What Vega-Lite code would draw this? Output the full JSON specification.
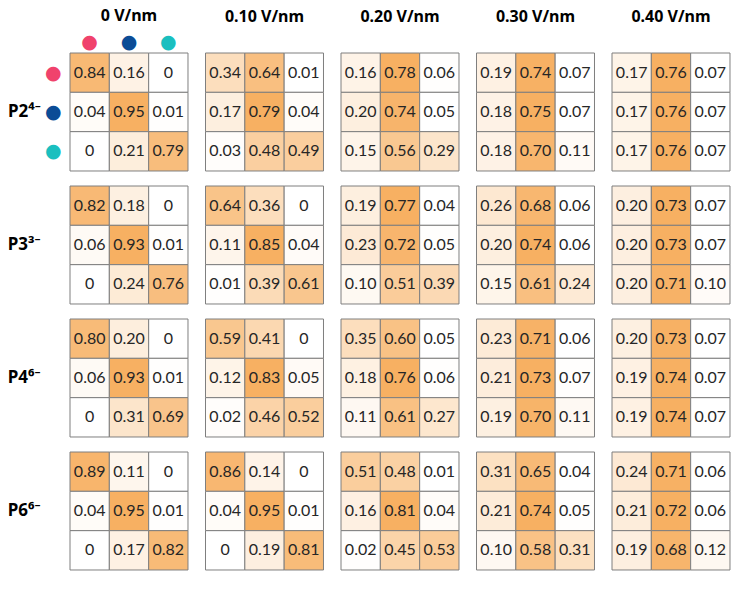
{
  "$schema": "https://vega.github.io/schema/vega-lite/v6.json",
  "background": "white",
  "padding": {"left": 7, "top": 8, "right": 8, "bottom": 8},
  "data": {"values": [
    {"e":"0","p":"P2","r":1,"c":1,"v":0.84},{"e":"0","p":"P2","r":1,"c":2,"v":0.16},{"e":"0","p":"P2","r":1,"c":3,"v":0},
    {"e":"0","p":"P2","r":2,"c":1,"v":0.04},{"e":"0","p":"P2","r":2,"c":2,"v":0.95},{"e":"0","p":"P2","r":2,"c":3,"v":0.01},
    {"e":"0","p":"P2","r":3,"c":1,"v":0},{"e":"0","p":"P2","r":3,"c":2,"v":0.21},{"e":"0","p":"P2","r":3,"c":3,"v":0.79},
    {"e":"0.10","p":"P2","r":1,"c":1,"v":0.34},{"e":"0.10","p":"P2","r":1,"c":2,"v":0.64},{"e":"0.10","p":"P2","r":1,"c":3,"v":0.01},
    {"e":"0.10","p":"P2","r":2,"c":1,"v":0.17},{"e":"0.10","p":"P2","r":2,"c":2,"v":0.79},{"e":"0.10","p":"P2","r":2,"c":3,"v":0.04},
    {"e":"0.10","p":"P2","r":3,"c":1,"v":0.03},{"e":"0.10","p":"P2","r":3,"c":2,"v":0.48},{"e":"0.10","p":"P2","r":3,"c":3,"v":0.49},
    {"e":"0.20","p":"P2","r":1,"c":1,"v":0.16},{"e":"0.20","p":"P2","r":1,"c":2,"v":0.78},{"e":"0.20","p":"P2","r":1,"c":3,"v":0.06},
    {"e":"0.20","p":"P2","r":2,"c":1,"v":0.20},{"e":"0.20","p":"P2","r":2,"c":2,"v":0.74},{"e":"0.20","p":"P2","r":2,"c":3,"v":0.05},
    {"e":"0.20","p":"P2","r":3,"c":1,"v":0.15},{"e":"0.20","p":"P2","r":3,"c":2,"v":0.56},{"e":"0.20","p":"P2","r":3,"c":3,"v":0.29},
    {"e":"0.30","p":"P2","r":1,"c":1,"v":0.19},{"e":"0.30","p":"P2","r":1,"c":2,"v":0.74},{"e":"0.30","p":"P2","r":1,"c":3,"v":0.07},
    {"e":"0.30","p":"P2","r":2,"c":1,"v":0.18},{"e":"0.30","p":"P2","r":2,"c":2,"v":0.75},{"e":"0.30","p":"P2","r":2,"c":3,"v":0.07},
    {"e":"0.30","p":"P2","r":3,"c":1,"v":0.18},{"e":"0.30","p":"P2","r":3,"c":2,"v":0.70},{"e":"0.30","p":"P2","r":3,"c":3,"v":0.11},
    {"e":"0.40","p":"P2","r":1,"c":1,"v":0.17},{"e":"0.40","p":"P2","r":1,"c":2,"v":0.76},{"e":"0.40","p":"P2","r":1,"c":3,"v":0.07},
    {"e":"0.40","p":"P2","r":2,"c":1,"v":0.17},{"e":"0.40","p":"P2","r":2,"c":2,"v":0.76},{"e":"0.40","p":"P2","r":2,"c":3,"v":0.07},
    {"e":"0.40","p":"P2","r":3,"c":1,"v":0.17},{"e":"0.40","p":"P2","r":3,"c":2,"v":0.76},{"e":"0.40","p":"P2","r":3,"c":3,"v":0.07},
    {"e":"0","p":"P3","r":1,"c":1,"v":0.82},{"e":"0","p":"P3","r":1,"c":2,"v":0.18},{"e":"0","p":"P3","r":1,"c":3,"v":0},
    {"e":"0","p":"P3","r":2,"c":1,"v":0.06},{"e":"0","p":"P3","r":2,"c":2,"v":0.93},{"e":"0","p":"P3","r":2,"c":3,"v":0.01},
    {"e":"0","p":"P3","r":3,"c":1,"v":0},{"e":"0","p":"P3","r":3,"c":2,"v":0.24},{"e":"0","p":"P3","r":3,"c":3,"v":0.76},
    {"e":"0.10","p":"P3","r":1,"c":1,"v":0.64},{"e":"0.10","p":"P3","r":1,"c":2,"v":0.36},{"e":"0.10","p":"P3","r":1,"c":3,"v":0},
    {"e":"0.10","p":"P3","r":2,"c":1,"v":0.11},{"e":"0.10","p":"P3","r":2,"c":2,"v":0.85},{"e":"0.10","p":"P3","r":2,"c":3,"v":0.04},
    {"e":"0.10","p":"P3","r":3,"c":1,"v":0.01},{"e":"0.10","p":"P3","r":3,"c":2,"v":0.39},{"e":"0.10","p":"P3","r":3,"c":3,"v":0.61},
    {"e":"0.20","p":"P3","r":1,"c":1,"v":0.19},{"e":"0.20","p":"P3","r":1,"c":2,"v":0.77},{"e":"0.20","p":"P3","r":1,"c":3,"v":0.04},
    {"e":"0.20","p":"P3","r":2,"c":1,"v":0.23},{"e":"0.20","p":"P3","r":2,"c":2,"v":0.72},{"e":"0.20","p":"P3","r":2,"c":3,"v":0.05},
    {"e":"0.20","p":"P3","r":3,"c":1,"v":0.10},{"e":"0.20","p":"P3","r":3,"c":2,"v":0.51},{"e":"0.20","p":"P3","r":3,"c":3,"v":0.39},
    {"e":"0.30","p":"P3","r":1,"c":1,"v":0.26},{"e":"0.30","p":"P3","r":1,"c":2,"v":0.68},{"e":"0.30","p":"P3","r":1,"c":3,"v":0.06},
    {"e":"0.30","p":"P3","r":2,"c":1,"v":0.20},{"e":"0.30","p":"P3","r":2,"c":2,"v":0.74},{"e":"0.30","p":"P3","r":2,"c":3,"v":0.06},
    {"e":"0.30","p":"P3","r":3,"c":1,"v":0.15},{"e":"0.30","p":"P3","r":3,"c":2,"v":0.61},{"e":"0.30","p":"P3","r":3,"c":3,"v":0.24},
    {"e":"0.40","p":"P3","r":1,"c":1,"v":0.20},{"e":"0.40","p":"P3","r":1,"c":2,"v":0.73},{"e":"0.40","p":"P3","r":1,"c":3,"v":0.07},
    {"e":"0.40","p":"P3","r":2,"c":1,"v":0.20},{"e":"0.40","p":"P3","r":2,"c":2,"v":0.73},{"e":"0.40","p":"P3","r":2,"c":3,"v":0.07},
    {"e":"0.40","p":"P3","r":3,"c":1,"v":0.20},{"e":"0.40","p":"P3","r":3,"c":2,"v":0.71},{"e":"0.40","p":"P3","r":3,"c":3,"v":0.10},
    {"e":"0","p":"P4","r":1,"c":1,"v":0.80},{"e":"0","p":"P4","r":1,"c":2,"v":0.20},{"e":"0","p":"P4","r":1,"c":3,"v":0},
    {"e":"0","p":"P4","r":2,"c":1,"v":0.06},{"e":"0","p":"P4","r":2,"c":2,"v":0.93},{"e":"0","p":"P4","r":2,"c":3,"v":0.01},
    {"e":"0","p":"P4","r":3,"c":1,"v":0},{"e":"0","p":"P4","r":3,"c":2,"v":0.31},{"e":"0","p":"P4","r":3,"c":3,"v":0.69},
    {"e":"0.10","p":"P4","r":1,"c":1,"v":0.59},{"e":"0.10","p":"P4","r":1,"c":2,"v":0.41},{"e":"0.10","p":"P4","r":1,"c":3,"v":0},
    {"e":"0.10","p":"P4","r":2,"c":1,"v":0.12},{"e":"0.10","p":"P4","r":2,"c":2,"v":0.83},{"e":"0.10","p":"P4","r":2,"c":3,"v":0.05},
    {"e":"0.10","p":"P4","r":3,"c":1,"v":0.02},{"e":"0.10","p":"P4","r":3,"c":2,"v":0.46},{"e":"0.10","p":"P4","r":3,"c":3,"v":0.52},
    {"e":"0.20","p":"P4","r":1,"c":1,"v":0.35},{"e":"0.20","p":"P4","r":1,"c":2,"v":0.60},{"e":"0.20","p":"P4","r":1,"c":3,"v":0.05},
    {"e":"0.20","p":"P4","r":2,"c":1,"v":0.18},{"e":"0.20","p":"P4","r":2,"c":2,"v":0.76},{"e":"0.20","p":"P4","r":2,"c":3,"v":0.06},
    {"e":"0.20","p":"P4","r":3,"c":1,"v":0.11},{"e":"0.20","p":"P4","r":3,"c":2,"v":0.61},{"e":"0.20","p":"P4","r":3,"c":3,"v":0.27},
    {"e":"0.30","p":"P4","r":1,"c":1,"v":0.23},{"e":"0.30","p":"P4","r":1,"c":2,"v":0.71},{"e":"0.30","p":"P4","r":1,"c":3,"v":0.06},
    {"e":"0.30","p":"P4","r":2,"c":1,"v":0.21},{"e":"0.30","p":"P4","r":2,"c":2,"v":0.73},{"e":"0.30","p":"P4","r":2,"c":3,"v":0.07},
    {"e":"0.30","p":"P4","r":3,"c":1,"v":0.19},{"e":"0.30","p":"P4","r":3,"c":2,"v":0.70},{"e":"0.30","p":"P4","r":3,"c":3,"v":0.11},
    {"e":"0.40","p":"P4","r":1,"c":1,"v":0.20},{"e":"0.40","p":"P4","r":1,"c":2,"v":0.73},{"e":"0.40","p":"P4","r":1,"c":3,"v":0.07},
    {"e":"0.40","p":"P4","r":2,"c":1,"v":0.19},{"e":"0.40","p":"P4","r":2,"c":2,"v":0.74},{"e":"0.40","p":"P4","r":2,"c":3,"v":0.07},
    {"e":"0.40","p":"P4","r":3,"c":1,"v":0.19},{"e":"0.40","p":"P4","r":3,"c":2,"v":0.74},{"e":"0.40","p":"P4","r":3,"c":3,"v":0.07},
    {"e":"0","p":"P6","r":1,"c":1,"v":0.89},{"e":"0","p":"P6","r":1,"c":2,"v":0.11},{"e":"0","p":"P6","r":1,"c":3,"v":0},
    {"e":"0","p":"P6","r":2,"c":1,"v":0.04},{"e":"0","p":"P6","r":2,"c":2,"v":0.95},{"e":"0","p":"P6","r":2,"c":3,"v":0.01},
    {"e":"0","p":"P6","r":3,"c":1,"v":0},{"e":"0","p":"P6","r":3,"c":2,"v":0.17},{"e":"0","p":"P6","r":3,"c":3,"v":0.82},
    {"e":"0.10","p":"P6","r":1,"c":1,"v":0.86},{"e":"0.10","p":"P6","r":1,"c":2,"v":0.14},{"e":"0.10","p":"P6","r":1,"c":3,"v":0},
    {"e":"0.10","p":"P6","r":2,"c":1,"v":0.04},{"e":"0.10","p":"P6","r":2,"c":2,"v":0.95},{"e":"0.10","p":"P6","r":2,"c":3,"v":0.01},
    {"e":"0.10","p":"P6","r":3,"c":1,"v":0},{"e":"0.10","p":"P6","r":3,"c":2,"v":0.19},{"e":"0.10","p":"P6","r":3,"c":3,"v":0.81},
    {"e":"0.20","p":"P6","r":1,"c":1,"v":0.51},{"e":"0.20","p":"P6","r":1,"c":2,"v":0.48},{"e":"0.20","p":"P6","r":1,"c":3,"v":0.01},
    {"e":"0.20","p":"P6","r":2,"c":1,"v":0.16},{"e":"0.20","p":"P6","r":2,"c":2,"v":0.81},{"e":"0.20","p":"P6","r":2,"c":3,"v":0.04},
    {"e":"0.20","p":"P6","r":3,"c":1,"v":0.02},{"e":"0.20","p":"P6","r":3,"c":2,"v":0.45},{"e":"0.20","p":"P6","r":3,"c":3,"v":0.53},
    {"e":"0.30","p":"P6","r":1,"c":1,"v":0.31},{"e":"0.30","p":"P6","r":1,"c":2,"v":0.65},{"e":"0.30","p":"P6","r":1,"c":3,"v":0.04},
    {"e":"0.30","p":"P6","r":2,"c":1,"v":0.21},{"e":"0.30","p":"P6","r":2,"c":2,"v":0.74},{"e":"0.30","p":"P6","r":2,"c":3,"v":0.05},
    {"e":"0.30","p":"P6","r":3,"c":1,"v":0.10},{"e":"0.30","p":"P6","r":3,"c":2,"v":0.58},{"e":"0.30","p":"P6","r":3,"c":3,"v":0.31},
    {"e":"0.40","p":"P6","r":1,"c":1,"v":0.24},{"e":"0.40","p":"P6","r":1,"c":2,"v":0.71},{"e":"0.40","p":"P6","r":1,"c":3,"v":0.06},
    {"e":"0.40","p":"P6","r":2,"c":1,"v":0.21},{"e":"0.40","p":"P6","r":2,"c":2,"v":0.72},{"e":"0.40","p":"P6","r":2,"c":3,"v":0.06},
    {"e":"0.40","p":"P6","r":3,"c":1,"v":0.19},{"e":"0.40","p":"P6","r":3,"c":2,"v":0.68},{"e":"0.40","p":"P6","r":3,"c":3,"v":0.12}
  ]},
  "bounds": "flush",
  "columns": 5,
  "spacing": {"row": 15, "column": 17.5},
  "resolve": {"scale": {"color": "independent"}},
  "concat": [
    {"title": {"text": "0 V/nm", "offset": 8},
     "transform": [{"filter": "datum.e == '0' && datum.p == 'P2'"}],
     "encoding": {
       "x": {"field": "c", "type": "ordinal", "axis": {"orient": "top", "title": null, "domain": false, "ticks": false, "labelExpr": "'●'", "labelFont": "DejaVu Sans", "labelFontSize": 19, "labelPadding": 2, "labelAngle": 0,
         "labelColor": {"condition": [{"test": "datum.value == 1", "value": "#F0426C"}, {"test": "datum.value == 2", "value": "#0B4C96"}], "value": "#1ABFBF"}}},
       "y": {"field": "r", "type": "ordinal", "axis": {"title": "P2⁴⁻", "titleAngle": 0, "titleAlign": "right", "titleBaseline": "middle", "titlePadding": 4, "domain": false, "ticks": false, "labelExpr": "'●'", "labelFont": "DejaVu Sans", "labelFontSize": 19, "labelPadding": 9,
         "labelColor": {"condition": [{"test": "datum.value == 1", "value": "#F0426C"}, {"test": "datum.value == 2", "value": "#0B4C96"}], "value": "#1ABFBF"}}}
     },
     "layer": [
       {"mark": {"type": "rect", "stroke": "#7f7f7f", "strokeWidth": 1}, "encoding": {"color": {"field": "v", "type": "quantitative", "legend": null, "scale": {"range": ["#ffffff", "#F7B062"], "interpolate": "rgb"}}}},
       {"mark": {"type": "text"}, "encoding": {"text": {"condition": {"test": "datum.v === 0", "value": "0"}, "field": "v", "type": "quantitative", "format": ".2f"}}}
     ]},
    {"title": {"text": "0.10 V/nm", "offset": 28},
     "transform": [{"filter": "datum.e == '0.10' && datum.p == 'P2'"}],
     "encoding": {"x": {"field": "c", "type": "ordinal", "axis": null}, "y": {"field": "r", "type": "ordinal", "axis": null}},
     "layer": [
       {"mark": {"type": "rect", "stroke": "#7f7f7f", "strokeWidth": 1}, "encoding": {"color": {"field": "v", "type": "quantitative", "legend": null, "scale": {"range": ["#ffffff", "#F7B062"], "interpolate": "rgb"}}}},
       {"mark": {"type": "text"}, "encoding": {"text": {"condition": {"test": "datum.v === 0", "value": "0"}, "field": "v", "type": "quantitative", "format": ".2f"}}}
     ]},
    {"title": {"text": "0.20 V/nm", "offset": 28},
     "transform": [{"filter": "datum.e == '0.20' && datum.p == 'P2'"}],
     "encoding": {"x": {"field": "c", "type": "ordinal", "axis": null}, "y": {"field": "r", "type": "ordinal", "axis": null}},
     "layer": [
       {"mark": {"type": "rect", "stroke": "#7f7f7f", "strokeWidth": 1}, "encoding": {"color": {"field": "v", "type": "quantitative", "legend": null, "scale": {"range": ["#ffffff", "#F7B062"], "interpolate": "rgb"}}}},
       {"mark": {"type": "text"}, "encoding": {"text": {"condition": {"test": "datum.v === 0", "value": "0"}, "field": "v", "type": "quantitative", "format": ".2f"}}}
     ]},
    {"title": {"text": "0.30 V/nm", "offset": 28},
     "transform": [{"filter": "datum.e == '0.30' && datum.p == 'P2'"}],
     "encoding": {"x": {"field": "c", "type": "ordinal", "axis": null}, "y": {"field": "r", "type": "ordinal", "axis": null}},
     "layer": [
       {"mark": {"type": "rect", "stroke": "#7f7f7f", "strokeWidth": 1}, "encoding": {"color": {"field": "v", "type": "quantitative", "legend": null, "scale": {"range": ["#ffffff", "#F7B062"], "interpolate": "rgb"}}}},
       {"mark": {"type": "text"}, "encoding": {"text": {"condition": {"test": "datum.v === 0", "value": "0"}, "field": "v", "type": "quantitative", "format": ".2f"}}}
     ]},
    {"title": {"text": "0.40 V/nm", "offset": 28},
     "transform": [{"filter": "datum.e == '0.40' && datum.p == 'P2'"}],
     "encoding": {"x": {"field": "c", "type": "ordinal", "axis": null}, "y": {"field": "r", "type": "ordinal", "axis": null}},
     "layer": [
       {"mark": {"type": "rect", "stroke": "#7f7f7f", "strokeWidth": 1}, "encoding": {"color": {"field": "v", "type": "quantitative", "legend": null, "scale": {"range": ["#ffffff", "#F7B062"], "interpolate": "rgb"}}}},
       {"mark": {"type": "text"}, "encoding": {"text": {"condition": {"test": "datum.v === 0", "value": "0"}, "field": "v", "type": "quantitative", "format": ".2f"}}}
     ]},
    {"transform": [{"filter": "datum.e == '0' && datum.p == 'P3'"}],
     "encoding": {"x": {"field": "c", "type": "ordinal", "axis": null},
       "y": {"field": "r", "type": "ordinal", "axis": {"title": "P3³⁻", "titleAngle": 0, "titleAlign": "right", "titleBaseline": "middle", "titlePadding": 30, "domain": false, "ticks": false, "labels": false}}},
     "layer": [
       {"mark": {"type": "rect", "stroke": "#7f7f7f", "strokeWidth": 1}, "encoding": {"color": {"field": "v", "type": "quantitative", "legend": null, "scale": {"range": ["#ffffff", "#F7B062"], "interpolate": "rgb"}}}},
       {"mark": {"type": "text"}, "encoding": {"text": {"condition": {"test": "datum.v === 0", "value": "0"}, "field": "v", "type": "quantitative", "format": ".2f"}}}
     ]},
    {"transform": [{"filter": "datum.e == '0.10' && datum.p == 'P3'"}],
     "encoding": {"x": {"field": "c", "type": "ordinal", "axis": null}, "y": {"field": "r", "type": "ordinal", "axis": null}},
     "layer": [
       {"mark": {"type": "rect", "stroke": "#7f7f7f", "strokeWidth": 1}, "encoding": {"color": {"field": "v", "type": "quantitative", "legend": null, "scale": {"range": ["#ffffff", "#F7B062"], "interpolate": "rgb"}}}},
       {"mark": {"type": "text"}, "encoding": {"text": {"condition": {"test": "datum.v === 0", "value": "0"}, "field": "v", "type": "quantitative", "format": ".2f"}}}
     ]},
    {"transform": [{"filter": "datum.e == '0.20' && datum.p == 'P3'"}],
     "encoding": {"x": {"field": "c", "type": "ordinal", "axis": null}, "y": {"field": "r", "type": "ordinal", "axis": null}},
     "layer": [
       {"mark": {"type": "rect", "stroke": "#7f7f7f", "strokeWidth": 1}, "encoding": {"color": {"field": "v", "type": "quantitative", "legend": null, "scale": {"range": ["#ffffff", "#F7B062"], "interpolate": "rgb"}}}},
       {"mark": {"type": "text"}, "encoding": {"text": {"condition": {"test": "datum.v === 0", "value": "0"}, "field": "v", "type": "quantitative", "format": ".2f"}}}
     ]},
    {"transform": [{"filter": "datum.e == '0.30' && datum.p == 'P3'"}],
     "encoding": {"x": {"field": "c", "type": "ordinal", "axis": null}, "y": {"field": "r", "type": "ordinal", "axis": null}},
     "layer": [
       {"mark": {"type": "rect", "stroke": "#7f7f7f", "strokeWidth": 1}, "encoding": {"color": {"field": "v", "type": "quantitative", "legend": null, "scale": {"range": ["#ffffff", "#F7B062"], "interpolate": "rgb"}}}},
       {"mark": {"type": "text"}, "encoding": {"text": {"condition": {"test": "datum.v === 0", "value": "0"}, "field": "v", "type": "quantitative", "format": ".2f"}}}
     ]},
    {"transform": [{"filter": "datum.e == '0.40' && datum.p == 'P3'"}],
     "encoding": {"x": {"field": "c", "type": "ordinal", "axis": null}, "y": {"field": "r", "type": "ordinal", "axis": null}},
     "layer": [
       {"mark": {"type": "rect", "stroke": "#7f7f7f", "strokeWidth": 1}, "encoding": {"color": {"field": "v", "type": "quantitative", "legend": null, "scale": {"range": ["#ffffff", "#F7B062"], "interpolate": "rgb"}}}},
       {"mark": {"type": "text"}, "encoding": {"text": {"condition": {"test": "datum.v === 0", "value": "0"}, "field": "v", "type": "quantitative", "format": ".2f"}}}
     ]},
    {"transform": [{"filter": "datum.e == '0' && datum.p == 'P4'"}],
     "encoding": {"x": {"field": "c", "type": "ordinal", "axis": null},
       "y": {"field": "r", "type": "ordinal", "axis": {"title": "P4⁶⁻", "titleAngle": 0, "titleAlign": "right", "titleBaseline": "middle", "titlePadding": 30, "domain": false, "ticks": false, "labels": false}}},
     "layer": [
       {"mark": {"type": "rect", "stroke": "#7f7f7f", "strokeWidth": 1}, "encoding": {"color": {"field": "v", "type": "quantitative", "legend": null, "scale": {"range": ["#ffffff", "#F7B062"], "interpolate": "rgb"}}}},
       {"mark": {"type": "text"}, "encoding": {"text": {"condition": {"test": "datum.v === 0", "value": "0"}, "field": "v", "type": "quantitative", "format": ".2f"}}}
     ]},
    {"transform": [{"filter": "datum.e == '0.10' && datum.p == 'P4'"}],
     "encoding": {"x": {"field": "c", "type": "ordinal", "axis": null}, "y": {"field": "r", "type": "ordinal", "axis": null}},
     "layer": [
       {"mark": {"type": "rect", "stroke": "#7f7f7f", "strokeWidth": 1}, "encoding": {"color": {"field": "v", "type": "quantitative", "legend": null, "scale": {"range": ["#ffffff", "#F7B062"], "interpolate": "rgb"}}}},
       {"mark": {"type": "text"}, "encoding": {"text": {"condition": {"test": "datum.v === 0", "value": "0"}, "field": "v", "type": "quantitative", "format": ".2f"}}}
     ]},
    {"transform": [{"filter": "datum.e == '0.20' && datum.p == 'P4'"}],
     "encoding": {"x": {"field": "c", "type": "ordinal", "axis": null}, "y": {"field": "r", "type": "ordinal", "axis": null}},
     "layer": [
       {"mark": {"type": "rect", "stroke": "#7f7f7f", "strokeWidth": 1}, "encoding": {"color": {"field": "v", "type": "quantitative", "legend": null, "scale": {"range": ["#ffffff", "#F7B062"], "interpolate": "rgb"}}}},
       {"mark": {"type": "text"}, "encoding": {"text": {"condition": {"test": "datum.v === 0", "value": "0"}, "field": "v", "type": "quantitative", "format": ".2f"}}}
     ]},
    {"transform": [{"filter": "datum.e == '0.30' && datum.p == 'P4'"}],
     "encoding": {"x": {"field": "c", "type": "ordinal", "axis": null}, "y": {"field": "r", "type": "ordinal", "axis": null}},
     "layer": [
       {"mark": {"type": "rect", "stroke": "#7f7f7f", "strokeWidth": 1}, "encoding": {"color": {"field": "v", "type": "quantitative", "legend": null, "scale": {"range": ["#ffffff", "#F7B062"], "interpolate": "rgb"}}}},
       {"mark": {"type": "text"}, "encoding": {"text": {"condition": {"test": "datum.v === 0", "value": "0"}, "field": "v", "type": "quantitative", "format": ".2f"}}}
     ]},
    {"transform": [{"filter": "datum.e == '0.40' && datum.p == 'P4'"}],
     "encoding": {"x": {"field": "c", "type": "ordinal", "axis": null}, "y": {"field": "r", "type": "ordinal", "axis": null}},
     "layer": [
       {"mark": {"type": "rect", "stroke": "#7f7f7f", "strokeWidth": 1}, "encoding": {"color": {"field": "v", "type": "quantitative", "legend": null, "scale": {"range": ["#ffffff", "#F7B062"], "interpolate": "rgb"}}}},
       {"mark": {"type": "text"}, "encoding": {"text": {"condition": {"test": "datum.v === 0", "value": "0"}, "field": "v", "type": "quantitative", "format": ".2f"}}}
     ]},
    {"transform": [{"filter": "datum.e == '0' && datum.p == 'P6'"}],
     "encoding": {"x": {"field": "c", "type": "ordinal", "axis": null},
       "y": {"field": "r", "type": "ordinal", "axis": {"title": "P6⁶⁻", "titleAngle": 0, "titleAlign": "right", "titleBaseline": "middle", "titlePadding": 30, "domain": false, "ticks": false, "labels": false}}},
     "layer": [
       {"mark": {"type": "rect", "stroke": "#7f7f7f", "strokeWidth": 1}, "encoding": {"color": {"field": "v", "type": "quantitative", "legend": null, "scale": {"range": ["#ffffff", "#F7B062"], "interpolate": "rgb"}}}},
       {"mark": {"type": "text"}, "encoding": {"text": {"condition": {"test": "datum.v === 0", "value": "0"}, "field": "v", "type": "quantitative", "format": ".2f"}}}
     ]},
    {"transform": [{"filter": "datum.e == '0.10' && datum.p == 'P6'"}],
     "encoding": {"x": {"field": "c", "type": "ordinal", "axis": null}, "y": {"field": "r", "type": "ordinal", "axis": null}},
     "layer": [
       {"mark": {"type": "rect", "stroke": "#7f7f7f", "strokeWidth": 1}, "encoding": {"color": {"field": "v", "type": "quantitative", "legend": null, "scale": {"range": ["#ffffff", "#F7B062"], "interpolate": "rgb"}}}},
       {"mark": {"type": "text"}, "encoding": {"text": {"condition": {"test": "datum.v === 0", "value": "0"}, "field": "v", "type": "quantitative", "format": ".2f"}}}
     ]},
    {"transform": [{"filter": "datum.e == '0.20' && datum.p == 'P6'"}],
     "encoding": {"x": {"field": "c", "type": "ordinal", "axis": null}, "y": {"field": "r", "type": "ordinal", "axis": null}},
     "layer": [
       {"mark": {"type": "rect", "stroke": "#7f7f7f", "strokeWidth": 1}, "encoding": {"color": {"field": "v", "type": "quantitative", "legend": null, "scale": {"range": ["#ffffff", "#F7B062"], "interpolate": "rgb"}}}},
       {"mark": {"type": "text"}, "encoding": {"text": {"condition": {"test": "datum.v === 0", "value": "0"}, "field": "v", "type": "quantitative", "format": ".2f"}}}
     ]},
    {"transform": [{"filter": "datum.e == '0.30' && datum.p == 'P6'"}],
     "encoding": {"x": {"field": "c", "type": "ordinal", "axis": null}, "y": {"field": "r", "type": "ordinal", "axis": null}},
     "layer": [
       {"mark": {"type": "rect", "stroke": "#7f7f7f", "strokeWidth": 1}, "encoding": {"color": {"field": "v", "type": "quantitative", "legend": null, "scale": {"range": ["#ffffff", "#F7B062"], "interpolate": "rgb"}}}},
       {"mark": {"type": "text"}, "encoding": {"text": {"condition": {"test": "datum.v === 0", "value": "0"}, "field": "v", "type": "quantitative", "format": ".2f"}}}
     ]},
    {"transform": [{"filter": "datum.e == '0.40' && datum.p == 'P6'"}],
     "encoding": {"x": {"field": "c", "type": "ordinal", "axis": null}, "y": {"field": "r", "type": "ordinal", "axis": null}},
     "layer": [
       {"mark": {"type": "rect", "stroke": "#7f7f7f", "strokeWidth": 1}, "encoding": {"color": {"field": "v", "type": "quantitative", "legend": null, "scale": {"range": ["#ffffff", "#F7B062"], "interpolate": "rgb"}}}},
       {"mark": {"type": "text"}, "encoding": {"text": {"condition": {"test": "datum.v === 0", "value": "0"}, "field": "v", "type": "quantitative", "format": ".2f"}}}
     ]}
  ],
  "config": {
    "view": {"step": 39.33, "stroke": null},
    "text": {"font": "Lato", "fontSize": 16, "fill": "#262626"},
    "title": {"font": "Noto Sans", "fontSize": 16, "fontWeight": "bold", "color": "#000000", "anchor": "middle", "frame": "group"},
    "axis": {"titleFont": "Noto Sans", "titleFontSize": 17, "titleFontWeight": "bold", "titleColor": "#000000"}
  }
}
